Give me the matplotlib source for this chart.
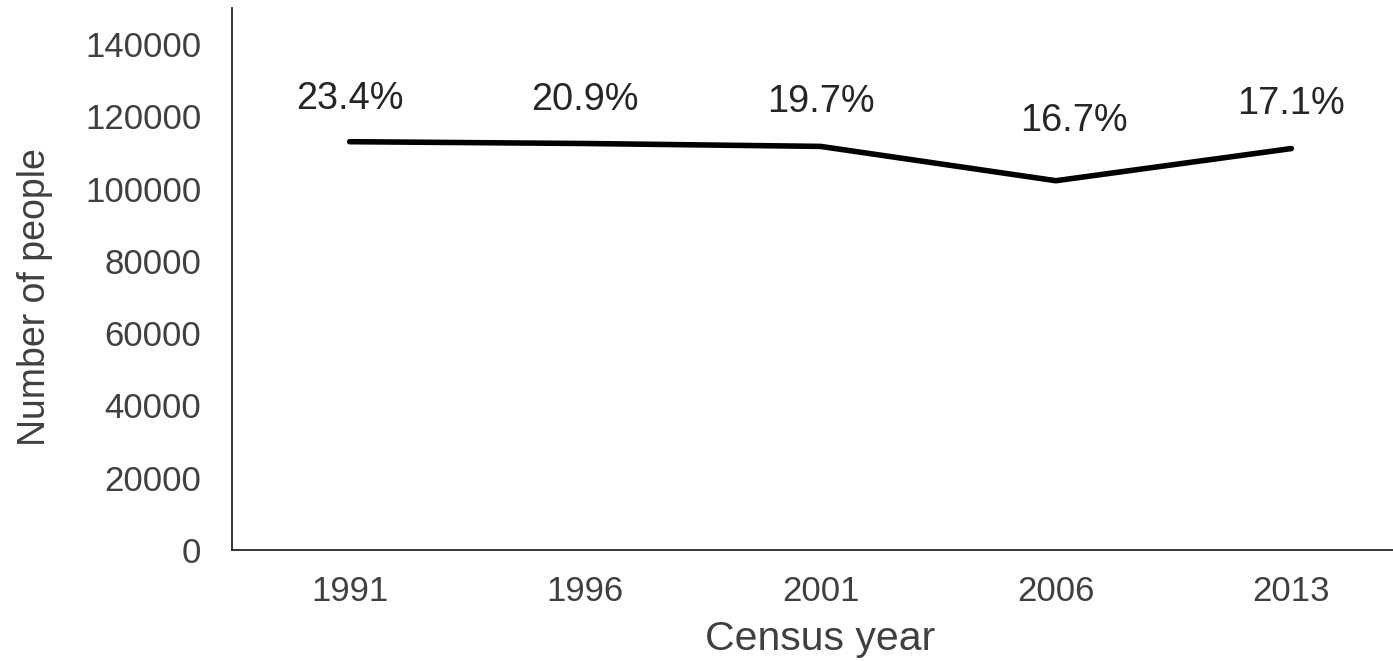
import matplotlib
matplotlib.use("Agg")
import matplotlib.pyplot as plt

years = ["1991", "1996", "2001", "2006", "2013"]
people = [113000, 112500, 111700, 102200, 111100]
pct_labels = ["23.4%", "20.9%", "19.7%", "16.7%", "17.1%"]
y_ticks = [0, 20000, 40000, 60000, 80000, 100000, 120000, 140000]

plt.rcParams['font.family'] = ['Liberation Sans', 'DejaVu Sans']

fig = plt.figure(figsize=(13.93, 6.61), dpi=100)
ax = fig.add_axes([232/1393, 1 - 550/661, 1177/1393, (550-8)/661])

x = list(range(len(years)))
ax.plot(x, people, color='black', lw=4.0, solid_capstyle='round', solid_joinstyle='round')

offsets = [(0, 43), (0, 43), (0, 44), (18, 60), (0, 45)]
for xi, yi, lab, off in zip(x, people, pct_labels, offsets):
    ax.annotate(lab, (xi, yi), xytext=off, textcoords='offset pixels',
                ha='center', va='center', fontsize=27.3, color='#262626')

ax.set_xlim(-0.5, len(years) - 0.5)
ax.set_ylim(0, 150000)
ax.set_xticks(x)
ax.set_xticklabels(years)
ax.set_yticks(y_ticks)
ax.set_yticklabels([str(v) for v in y_ticks])
ax.tick_params(axis='both', length=0, labelsize=25, colors='#404040')
ax.tick_params(axis='y', pad=22)
ax.tick_params(axis='x', pad=18)

for s in ['top', 'right']:
    ax.spines[s].set_visible(False)
for s in ['left', 'bottom']:
    ax.spines[s].set_color('#262626')
    ax.spines[s].set_linewidth(1.3)

ax.set_xlabel("Census year", fontsize=29.5, color='#404040', labelpad=9)
ax.set_ylabel("Number of people", fontsize=27, color='#404040', va='center')
ax.yaxis.set_label_coords((35 - 232) / 1177, (550 - 297) / 542)

fig.savefig("out.png", dpi=100)
